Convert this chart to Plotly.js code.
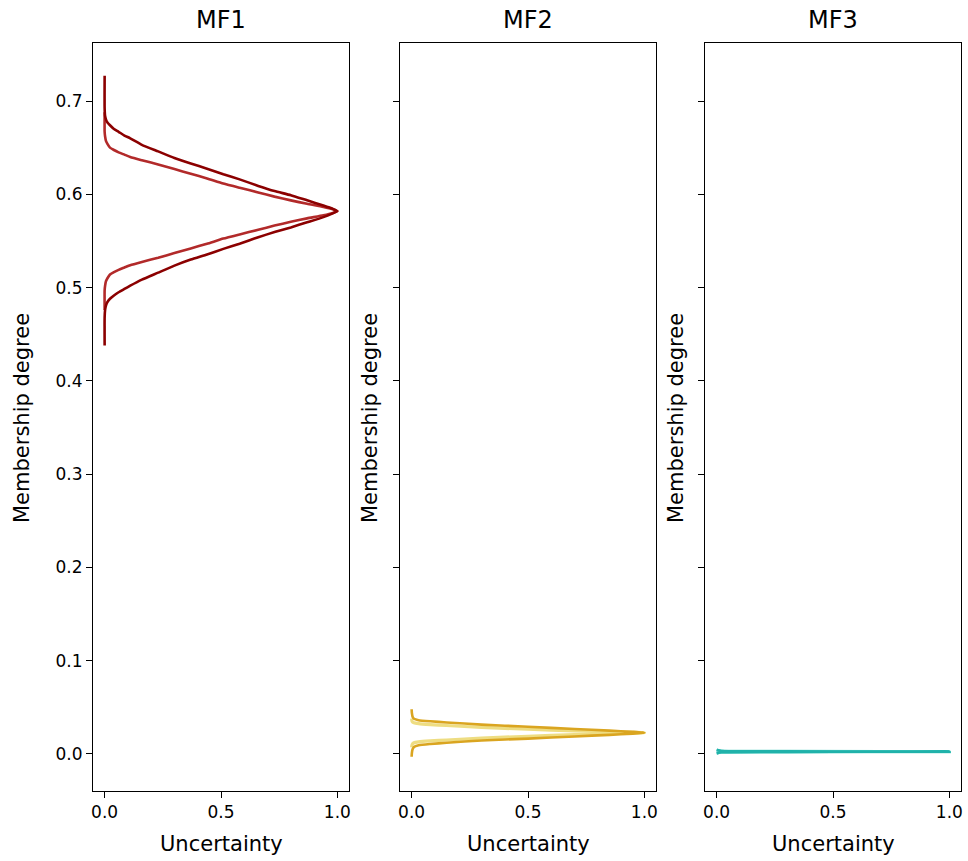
<!DOCTYPE html>
<html>
<head>
<meta charset="utf-8">
<script src="https://cdn.plot.ly/plotly-3.0.1.min.js"></script>
<style>html,body{margin:0;padding:0;background:#fff;}#chart{width:968px;height:861px;}</style>
</head>
<body>
<div id="chart"></div>
<script>
// ---- data ----
const panelTitles = ["MF1", "MF2", "MF3"];
const xLabel = "Uncertainty";
const yLabel = "Membership degree";
const xTickVals = [0, 0.5, 1];
const xTickText = ["0.0", "0.5", "1.0"];
const yTickVals = [0, 0.1, 0.2, 0.3, 0.4, 0.5, 0.6, 0.7];
const yTickText = ["0.0", "0.1", "0.2", "0.3", "0.4", "0.5", "0.6", "0.7"];

// MF1 outer (dark) curve: top tail -> peak -> bottom tail
const mf1OuterX = [0.0, 0.0, 0.002, 0.006, 0.012, 0.023, 0.04, 0.06, 0.085, 0.11, 0.16, 0.23, 0.30, 0.37, 0.44, 0.51, 0.58, 0.66, 0.73, 0.80, 0.87, 0.94, 0.98, 1.0,
                   0.98, 0.94, 0.87, 0.80, 0.73, 0.66, 0.58, 0.51, 0.44, 0.37, 0.30, 0.23, 0.16, 0.11, 0.085, 0.06, 0.04, 0.023, 0.012, 0.006, 0.002, 0.0, 0.0];
const mf1OuterY = [0.727, 0.692, 0.684, 0.680, 0.677, 0.674, 0.670, 0.667, 0.663, 0.660, 0.653, 0.646, 0.639, 0.633, 0.6275, 0.6215, 0.616, 0.609, 0.6035, 0.599, 0.5935, 0.588, 0.5845, 0.582,
                   0.5795, 0.5755, 0.570, 0.5645, 0.5595, 0.554, 0.547, 0.5415, 0.5355, 0.530, 0.5235, 0.516, 0.5085, 0.502, 0.4985, 0.495, 0.4915, 0.488, 0.4845, 0.481, 0.476, 0.468, 0.438];
// MF1 inner (lighter) curve
const mf1InnerX = [0.0, 0.0, 0.002, 0.006, 0.012, 0.023, 0.04, 0.06, 0.085, 0.11, 0.16, 0.23, 0.30, 0.37, 0.44, 0.51, 0.58, 0.66, 0.73, 0.80, 0.87, 0.94, 0.98, 1.0,
                   0.98, 0.94, 0.87, 0.80, 0.73, 0.66, 0.58, 0.51, 0.44, 0.37, 0.30, 0.23, 0.16, 0.11, 0.085, 0.06, 0.04, 0.023, 0.012, 0.006, 0.002, 0.0, 0.0];
const mf1InnerY = [0.688, 0.667, 0.662, 0.657, 0.654, 0.650, 0.6475, 0.645, 0.6425, 0.640, 0.6365, 0.632, 0.627, 0.622, 0.617, 0.6115, 0.607, 0.602, 0.5975, 0.5935, 0.5898, 0.5865, 0.584, 0.582,
                   0.580, 0.5775, 0.5742, 0.5705, 0.5665, 0.562, 0.557, 0.5525, 0.547, 0.542, 0.537, 0.532, 0.5275, 0.524, 0.5215, 0.519, 0.5165, 0.514, 0.510, 0.507, 0.502, 0.497, 0.476];

// MF2 outer (goldenrod) curve
const mf2OuterX = [0.0, 0.001, 0.004, 0.01, 0.03, 0.08, 0.15, 0.3, 0.5, 0.7, 0.85, 0.95, 1.0,
                   0.95, 0.85, 0.7, 0.5, 0.3, 0.15, 0.08, 0.03, 0.01, 0.004, 0.001, 0.0];
const mf2OuterY = [0.048, 0.044, 0.040, 0.0378, 0.0362, 0.0350, 0.0338, 0.0315, 0.0292, 0.0268, 0.0250, 0.0237, 0.0228,
                   0.0218, 0.0205, 0.0188, 0.0165, 0.0145, 0.0120, 0.0107, 0.0093, 0.0075, 0.0050, 0.0010, -0.003];
// MF2 inner (light yellow) curve
const mf2InnerX = [0.0, 0.002, 0.01, 0.03, 0.08, 0.15, 0.3, 0.5, 0.7, 0.85, 1.0,
                   0.85, 0.7, 0.5, 0.3, 0.15, 0.08, 0.03, 0.01, 0.002, 0.0];
const mf2InnerY = [0.038, 0.035, 0.0335, 0.0325, 0.0315, 0.0305, 0.0285, 0.0265, 0.0248, 0.0238, 0.0228,
                   0.0218, 0.0208, 0.0190, 0.0170, 0.0150, 0.0140, 0.0130, 0.0120, 0.0100, 0.0070];

// MF3 outer (teal) curve
const mf3OuterX = [0.0, 0.02, 0.3, 0.7, 1.0, 0.7, 0.3, 0.02, 0.0];
const mf3OuterY = [0.0045, 0.0032, 0.0028, 0.0026, 0.0025, 0.0024, 0.0022, 0.0018, 0.0005];
// MF3 inner (light teal) curve
const mf3InnerX = [0.0, 0.02, 0.3, 1.0, 0.3, 0.02, 0.0];
const mf3InnerY = [0.0038, 0.0030, 0.0027, 0.0025, 0.0023, 0.0020, 0.0012];

const colors = {
  mf1Outer: "#8b0000", mf1Inner: "#b22a2a",
  mf2Outer: "#daa520", mf2Inner: "#eedd82",
  mf3Outer: "#20b2aa", mf3Inner: "#5fd3c8"
};

function tr(x, y, color, ax, w) {
  return {x: x, y: y, type: "scatter", mode: "lines", xaxis: "x" + ax, yaxis: "y" + ax,
          line: {color: color, width: w, shape: "spline", smoothing: 0.5}, hoverinfo: "skip", showlegend: false};
}

const data = [
  tr(mf1InnerX, mf1InnerY, colors.mf1Inner, "", 2.6),
  tr(mf1OuterX, mf1OuterY, colors.mf1Outer, "", 2.6),
  tr(mf2InnerX, mf2InnerY, colors.mf2Inner, "2", 3.2),
  tr(mf2OuterX, mf2OuterY, colors.mf2Outer, "2", 2.6),
  tr(mf3InnerX, mf3InnerY, colors.mf3Inner, "3", 3.2),
  tr(mf3OuterX, mf3OuterY, colors.mf3Outer, "3", 2.6)
];

const W = 968, H = 861;
const panels = [[93, 349], [400, 656], [705, 961]];
const plotTop = 43, plotBottom = 791;
const yDom = [1 - plotBottom / H, 1 - plotTop / H];
const baseFont = {family: "DejaVu Sans, sans-serif", color: "#000"};

function xax(i) {
  return {domain: [panels[i][0] / W, panels[i][1] / W], range: [-0.05, 1.05], tickvals: xTickVals, ticktext: xTickText,
          ticks: "outside", ticklen: 6, tickwidth: 1, tickcolor: "#000", showline: true, mirror: true, linecolor: "#000",
          linewidth: 1, showgrid: false, zeroline: false, tickfont: Object.assign({size: 17}, baseFont),
          anchor: i === 0 ? "y" : "y" + (i + 1), fixedrange: true};
}
function yax(i) {
  return {domain: yDom, range: [-0.0397, 0.7622], tickvals: yTickVals, ticktext: yTickText,
          showticklabels: i === 0,
          ticks: "outside", ticklen: 6, tickwidth: 1, tickcolor: "#000", showline: true, mirror: true, linecolor: "#000",
          linewidth: 1, showgrid: false, zeroline: false, tickfont: Object.assign({size: 17}, baseFont),
          anchor: i === 0 ? "x" : "x" + (i + 1), fixedrange: true};
}

const annotations = [];
panelTitles.forEach((t, i) => {
  const cx = (panels[i][0] + panels[i][1]) / 2 / W;
  annotations.push({text: t, x: cx, y: 1 - 20 / H, xref: "paper", yref: "paper", showarrow: false,
                    xanchor: "center", yanchor: "middle", font: Object.assign({size: 24}, baseFont)});
  annotations.push({text: xLabel, x: cx, y: 1 - 844 / H, xref: "paper", yref: "paper", showarrow: false,
                    xanchor: "center", yanchor: "middle", font: Object.assign({size: 21}, baseFont)});
});
[22, 370, 676].forEach(px => {
  annotations.push({text: yLabel, x: px / W, y: 1 - 418 / H, xref: "paper", yref: "paper", showarrow: false,
                    xanchor: "center", yanchor: "middle", textangle: -90, font: Object.assign({size: 21}, baseFont)});
});

const layout = {
  width: W, height: H, margin: {l: 0, r: 0, t: 0, b: 0}, paper_bgcolor: "#fff", plot_bgcolor: "#fff",
  showlegend: false, font: baseFont,
  xaxis: xax(0), yaxis: yax(0), xaxis2: xax(1), yaxis2: yax(1), xaxis3: xax(2), yaxis3: yax(2),
  annotations: annotations
};

Plotly.newPlot("chart", data, layout, {displayModeBar: false, staticPlot: true});
</script>
</body>
</html>
